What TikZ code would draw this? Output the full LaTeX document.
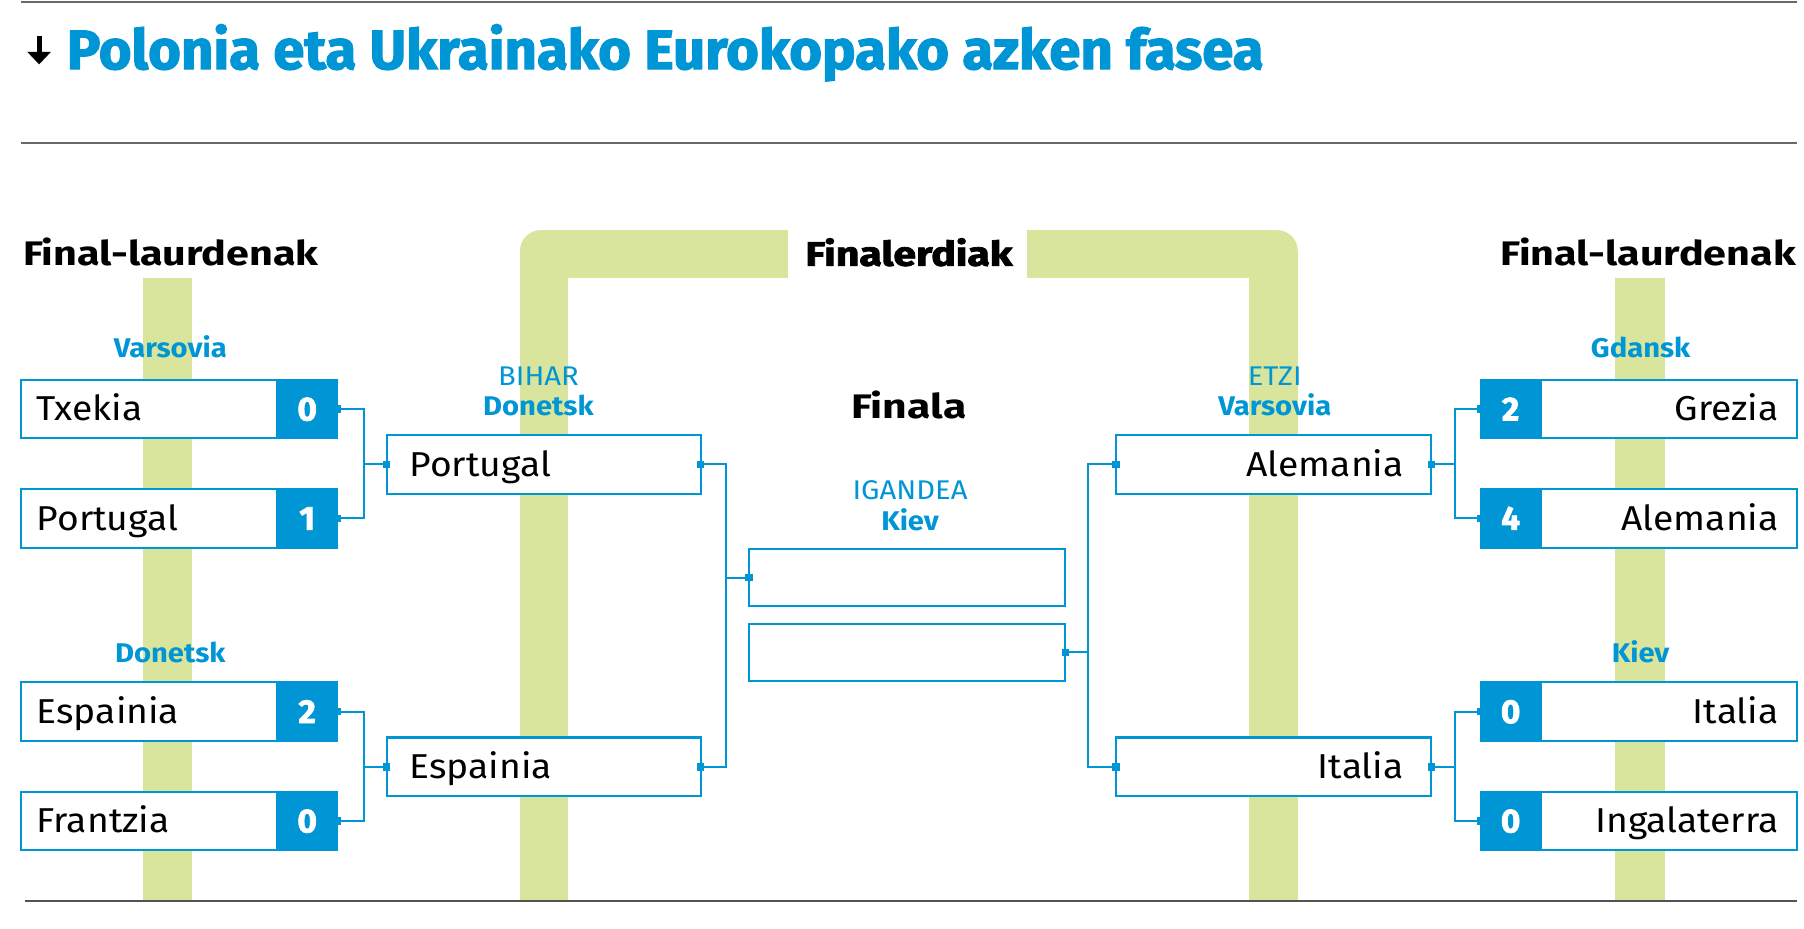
\documentclass[tikz,border=0pt]{standalone}
\usepackage{fontspec}
\setmainfont{Fira Sans}[FakeStretch=1.08]
\newfontfamily\heavyfont{Fira Sans}[BoldFeatures={FakeBold=2.2}]
\usetikzlibrary{arrows.meta}
\definecolor{eblue}{RGB}{0,150,214}
\definecolor{sage}{RGB}{217,229,156}
\definecolor{rulegrey}{RGB}{105,105,105}
\begin{document}
\begin{tikzpicture}[x=1pt,y=-1pt,
  every node/.style={inner sep=0pt, outer sep=0pt},
  teambox/.style={draw=eblue, fill=white, line width=1.8pt, minimum height=51pt,
    text height=20.5pt, text depth=0pt, text=black, font=\fontsize{30}{32}\selectfont},
  qfleft/.style={teambox, text width=247pt, inner xsep=14pt, align=left},
  qfright/.style={teambox, text width=243pt, inner xsep=16pt, align=right},
  sfleft/.style={teambox, text width=233pt, inner xsep=20pt, align=left},
  sfright/.style={teambox, text width=226pt, inner xsep=24pt, align=right},
  finbox/.style={draw=eblue, fill=white, line width=1.8pt, minimum width=275pt, minimum height=50pt},
  scorebox/.style={draw=eblue, fill=eblue, line width=1.8pt, minimum width=52pt, minimum height=51pt,
    text=white, text height=20pt, text depth=0pt, font=\heavyfont\bfseries\fontsize{29}{30}\selectfont},
  citylbl/.style={anchor=base, text=eblue, font=\bfseries\fontsize{23.5}{25}\selectfont},
  daylbl/.style={anchor=base, text=eblue, font=\fontsize{23.5}{25}\selectfont},
  linkline/.style={draw=eblue, line width=1.8pt,
    {Square[length=6.5pt,width=6.5pt]}-{Square[length=6.5pt,width=6.5pt]},
    shorten <=-3.25pt, shorten >=-3.25pt},
]
\useasboundingbox (0,0) rectangle (1568,807);

% green guide bands
\fill[sage] (124,242) rectangle (167,783);
\fill[sage] (1404,242) rectangle (1447,783);
\fill[sage] (452,218) rectangle (494,783);
\fill[sage] (470,200) rectangle (685,242);
\fill[sage, rounded corners=18pt] (452,200) rectangle (494,242);
\fill[sage] (1086,218) rectangle (1128,783);
\fill[sage] (893,200) rectangle (1110,242);
\fill[sage, rounded corners=18pt] (1086,200) rectangle (1128,242);

% rules
\draw[rulegrey, line width=2pt] (18,2) -- (1562,2);
\draw[rulegrey, line width=2pt] (18,124) -- (1562,124);
\draw[rulegrey!80!black, line width=1.5pt] (22,783) -- (1562,783);

% title
\draw[black, line width=4.5pt, -{Triangle[length=11pt,width=20pt]}] (34,31) -- (34,56);
\node[anchor=base west, text=eblue] (ttl) at (58,60)
  {\resizebox{1040pt}{39pt}{\heavyfont\bfseries Polonia eta Ukrainako Eurokopako azken fasea}};

% headings
\node[anchor=base west] (hqfl) at (20,231) {\resizebox{257pt}{24pt}{\bfseries Final-laurdenak}};
\node[anchor=base east] (hqfr) at (1561,231) {\resizebox{257pt}{24pt}{\bfseries Final-laurdenak}};
\node[anchor=base] (hsf) at (790,231) {\resizebox{180pt}{24pt}{\heavyfont\bfseries Finalerdiak}};
\node[anchor=base] (hfin) at (790,364) {\resizebox{100pt}{24pt}{\bfseries Finala}};

% place / day labels
\node[citylbl] (lvar) at (148,311) {Varsovia};
\node[citylbl] (ldon) at (148,576) {Donetsk};
\node[citylbl] (lgda) at (1426,311) {Gdansk};
\node[citylbl] (lkie) at (1426,576) {Kiev};
\node[daylbl] (dbih) at (468,335) {BIHAR};
\node[citylbl] (dbihc) at (468,361) {Donetsk};
\node[daylbl] (detz) at (1108,335) {ETZI};
\node[citylbl] (detzc) at (1108,361) {Varsovia};
\node[daylbl] (digd) at (791,434) {IGANDEA};
\node[citylbl] (digdc) at (791,461) {Kiev};

% quarter-finals left
\node[qfleft] (txk) at (155.5,355.5) {Txekia};
\node[scorebox, anchor=east] (txs) at (txk.east) {0};
\node[qfleft] (ptq) at (155.5,450.5) {Portugal};
\node[scorebox, anchor=east] (pts) at (ptq.east) {1};
\node[qfleft] (esq) at (155.5,618.5) {Espainia};
\node[scorebox, anchor=east] (ess) at (esq.east) {2};
\node[qfleft] (frq) at (155.5,713.5) {Frantzia};
\node[scorebox, anchor=east] (frs) at (frq.east) {0};

% quarter-finals right
\node[qfright] (grz) at (1424.5,355.5) {Grezia};
\node[scorebox, anchor=west] (grs) at (grz.west) {2};
\node[qfright] (alq) at (1424.5,450.5) {Alemania};
\node[scorebox, anchor=west] (als) at (alq.west) {4};
\node[qfright] (itq) at (1424.5,618.5) {Italia};
\node[scorebox, anchor=west] (its) at (itq.west) {0};
\node[qfright] (ing) at (1424.5,713.5) {Ingalaterra};
\node[scorebox, anchor=west] (ins) at (ing.west) {0};

% semi-finals
\node[sfleft] (sfP) at (472.5,403.5) {Portugal};
\node[sfleft] (sfE) at (472.5,666.5) {Espainia};
\node[sfright] (sfA) at (1107,403.5) {Alemania};
\node[sfright] (sfI) at (1107,666.5) {Italia};

% final
\node[finbox] (fin1) at (788.5,502) {};
\node[finbox] (fin2) at (788.5,567) {};

% connectors
\draw[linkline] (txs.east) -- ++(23,0) |- (sfP.west);
\draw[linkline] (pts.east) -- ++(23,0) |- (sfP.west);
\draw[linkline] (ess.east) -- ++(23,0) |- (sfE.west);
\draw[linkline] (frs.east) -- ++(23,0) |- (sfE.west);
\draw[linkline] (sfP.east) -- ++(22,0) |- (fin1.west);
\draw[linkline] (sfE.east) -- ++(22,0) |- (fin1.west);
\draw[linkline] (sfA.west) -- ++(-24,0) |- (fin2.east);
\draw[linkline] (sfI.west) -- ++(-24,0) |- (fin2.east);
\draw[linkline] (grs.west) -- ++(-22,0) |- (sfA.east);
\draw[linkline] (als.west) -- ++(-22,0) |- (sfA.east);
\draw[linkline] (its.west) -- ++(-22,0) |- (sfI.east);
\draw[linkline] (ins.west) -- ++(-22,0) |- (sfI.east);
\end{tikzpicture}
\end{document}
